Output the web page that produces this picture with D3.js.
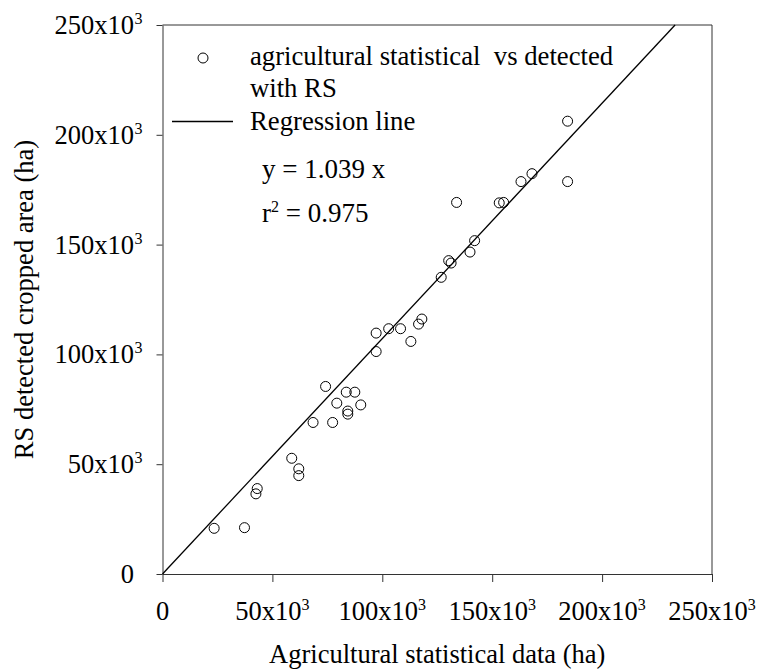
<!DOCTYPE html>
<html>
<head>
<meta charset="utf-8">
<script src="https://cdn.jsdelivr.net/npm/d3@7"></script>
<style>
  body { margin: 0; background: #fff; }
</style>
</head>
<body>
<svg id="chart" width="757" height="671"></svg>
<script>
// values in thousands of ha
const statData = [23.5, 37.3, 42.5, 43.1, 58.8, 62.0, 62.0, 68.5, 77.4, 74.2, 79.3, 83.6, 87.5, 84.3, 84.3, 90.2,
                  97.2, 97.2, 102.9, 108.3, 113.0, 116.5, 118.0, 126.8, 130.2, 131.3, 133.8, 139.9, 142.0, 153.2,
                  155.2, 163.1, 168.1, 184.3, 184.3];
const rsData = [20.8, 21.1, 36.5, 38.9, 52.7, 47.9, 44.8, 69.0, 69.0, 85.4, 77.8, 82.8, 82.8, 74.2, 72.8, 77.0,
                101.3, 109.7, 111.7, 111.7, 105.9, 113.8, 116.1, 135.1, 142.7, 141.6, 169.2, 146.6, 151.8, 169.0,
                169.2, 178.7, 182.3, 206.2, 178.7];

// regression line as drawn in the figure (ends where it leaves the top of the frame)
const regX = [0, 233.2];
const regY = [0, 250];

const tickValues = [0, 50, 100, 150, 200, 250];
const legendLabels = ['agricultural statistical  vs detected', 'with RS', 'Regression line'];
const eqText = 'y = 1.039 x';
const r2Text = ' = 0.975';

const FONT = '"Liberation Serif", "Times New Roman", Times, serif';
const FS = 26.5;

const svg = d3.select('#chart')
    .attr('font-family', FONT);

const x = d3.scaleLinear().domain([0, 250]).range([162.5, 712]);
const y = d3.scaleLinear().domain([0, 250]).range([574, 25]);

const axisColor = '#333';

// tick label "50x10" + superscript 3
function tickLabel(sel, v) {
    if (v === 0) { sel.append('tspan').text('0'); return; }
    sel.append('tspan').text(v + 'x10');
    sel.append('tspan').attr('font-size', 16).attr('dy', -10).text('3');
}

// bottom axis
const xAxis = svg.append('g')
    .attr('transform', `translate(0,${y(0)})`)
    .call(d3.axisBottom(x).tickValues(tickValues).tickSize(8).tickSizeOuter(0).tickFormat(''));
xAxis.select('.domain').attr('stroke', axisColor);
xAxis.selectAll('.tick line').attr('stroke', axisColor);

svg.selectAll('.xlab')
    .data(tickValues)
    .enter()
    .append('text')
    .attr('class', 'xlab')
    .attr('x', d => x(d))
    .attr('y', 620)
    .attr('text-anchor', 'middle')
    .attr('font-size', FS)
    .each(function (d) { tickLabel(d3.select(this), d); });

// left axis
const yAxis = svg.append('g')
    .attr('transform', `translate(${x(0)},0)`)
    .call(d3.axisLeft(y).tickValues(tickValues).tickSize(6).tickSizeOuter(0).tickFormat(''));
yAxis.select('.domain').attr('stroke', axisColor);
yAxis.selectAll('.tick line').attr('stroke', axisColor);

// y labels: base text right aligned, exponent hangs past it
tickValues.forEach(v => {
    const base = v === 0 ? '0' : v + 'x10';
    svg.append('text')
        .attr('x', 134)
        .attr('y', y(v) + 9)
        .attr('text-anchor', 'end')
        .attr('font-size', FS)
        .text(base);
    if (v !== 0) {
        svg.append('text')
            .attr('x', 134.5)
            .attr('y', y(v) + 9 - 10)
            .attr('font-size', 16)
            .text('3');
    }
});

// top and right frame
svg.append('line')
    .attr('x1', x(0)).attr('x2', x(250))
    .attr('y1', y(250)).attr('y2', y(250))
    .attr('stroke', axisColor);
svg.append('line')
    .attr('x1', x(250)).attr('x2', x(250))
    .attr('y1', y(250)).attr('y2', y(0))
    .attr('stroke', axisColor);

// axis titles
svg.append('text')
    .attr('x', (x(0) + x(250)) / 2)
    .attr('y', 663)
    .attr('text-anchor', 'middle')
    .attr('font-size', FS)
    .text('Agricultural statistical data (ha)');

svg.append('text')
    .attr('transform', `translate(33,${(y(0) + y(250)) / 2}) rotate(-90)`)
    .attr('text-anchor', 'middle')
    .attr('font-size', FS)
    .text('RS detected cropped area (ha)');

// regression line
svg.append('path')
    .datum(d3.zip(regX, regY))
    .attr('d', d3.line().x(d => x(d[0])).y(d => y(d[1])))
    .attr('fill', 'none')
    .attr('stroke', '#000')
    .attr('stroke-width', 1.3);

// points
svg.selectAll('circle.pt')
    .data(d3.zip(statData, rsData))
    .enter()
    .append('circle')
    .attr('class', 'pt')
    .attr('cx', d => x(d[0]))
    .attr('cy', d => y(d[1]))
    .attr('r', 5)
    .attr('fill', 'none')
    .attr('stroke', '#000')
    .attr('stroke-width', 1);

// legend
svg.append('circle')
    .attr('cx', 203).attr('cy', 58)
    .attr('r', 5)
    .attr('fill', 'none')
    .attr('stroke', '#000');

svg.append('line')
    .attr('x1', 172).attr('x2', 233)
    .attr('y1', 121.5).attr('y2', 121.5)
    .attr('stroke', '#000')
    .attr('stroke-width', 1.3);

const legendY = [65, 97, 130];
legendLabels.forEach((t, i) => {
    svg.append('text')
        .attr('x', 250)
        .attr('y', legendY[i])
        .attr('font-size', 26.7)
        .style('white-space', 'pre')
        .text(t);
});

svg.append('text')
    .attr('x', 262)
    .attr('y', 178)
    .attr('font-size', 27)
    .style('white-space', 'pre')
    .text(eqText);

const r2 = svg.append('text')
    .attr('x', 262)
    .attr('y', 222)
    .attr('font-size', 27)
    .style('white-space', 'pre');
r2.append('tspan').text('r');
r2.append('tspan').attr('font-size', 16).attr('dy', -10).text('2');
r2.append('tspan').attr('dy', 10).text(r2Text);
</script>
</body>
</html>
